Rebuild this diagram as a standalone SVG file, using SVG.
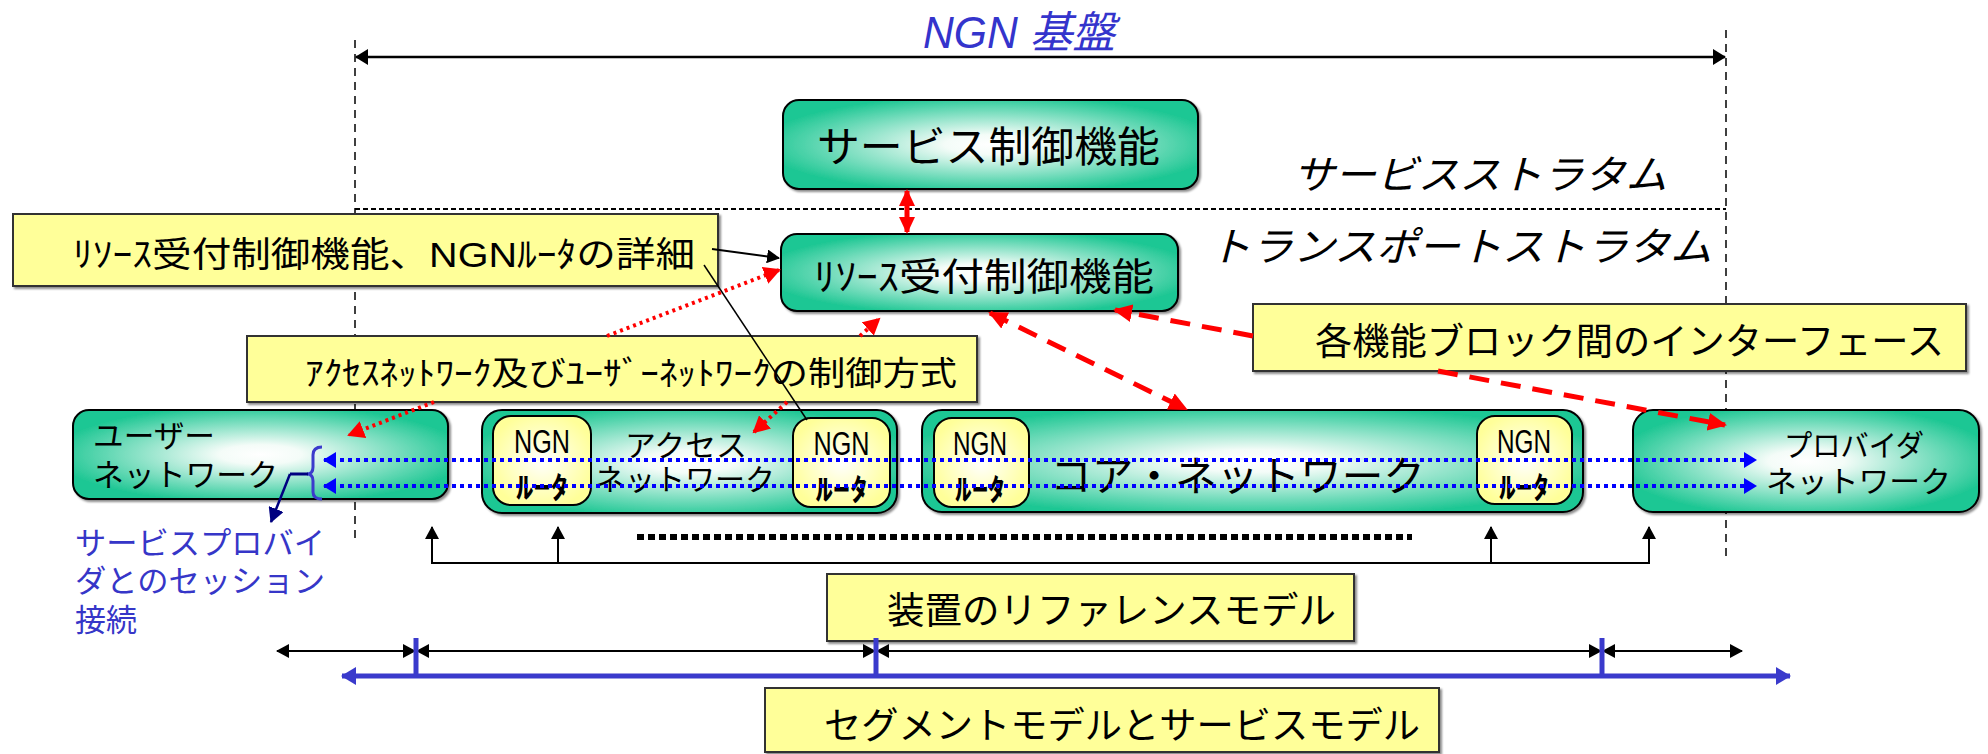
<svg xmlns="http://www.w3.org/2000/svg" width="1988" height="754" viewBox="0 0 1988 754">
<style>
.jp{font-family:'Liberation Sans','Noto Sans CJK JP',sans-serif;fill:#000}
.lat{font-family:'Liberation Sans',sans-serif;fill:#000}
.green{fill:url(#gG);stroke:#000;stroke-width:2;filter:url(#sh)}
.rtr{fill:url(#gY);stroke:#000;stroke-width:2}
.call{fill:#ffff99;stroke:#333;stroke-width:2;filter:url(#sh)}
.blue{fill:#3636c8}
</style>
<defs>
<radialGradient id="gG" cx="50%" cy="50%" r="55%">
<stop offset="0" stop-color="#ffffff"/>
<stop offset="0.2" stop-color="#f4fcf8"/>
<stop offset="1" stop-color="#1fc794"/>
</radialGradient>
<radialGradient id="gY" cx="50%" cy="50%" r="55%">
<stop offset="0" stop-color="#ffffff"/>
<stop offset="1" stop-color="#ffff99"/>
</radialGradient>
<filter id="sh" x="-5%" y="-5%" width="115%" height="125%">
<feDropShadow dx="2" dy="2" stdDeviation="1" flood-color="#000" flood-opacity="0.45"/>
</filter>
<marker id="aBk" markerUnits="userSpaceOnUse" markerWidth="14" markerHeight="16" refX="12" refY="8" orient="auto-start-reverse"><path d="M0,0 L13,8 L0,16 z" fill="#000"/></marker>
<marker id="aBs" markerUnits="userSpaceOnUse" markerWidth="14" markerHeight="14" refX="12" refY="7" orient="auto-start-reverse"><path d="M0,0 L13,7 L0,14 z" fill="#000"/></marker>
<marker id="aRd" markerUnits="userSpaceOnUse" markerWidth="20" markerHeight="18" refX="17" refY="9" orient="auto-start-reverse"><path d="M0,0 L19,9 L0,18 z" fill="#ff0000"/></marker>
<marker id="aRs" markerUnits="userSpaceOnUse" markerWidth="18" markerHeight="18" refX="15" refY="9" orient="auto-start-reverse"><path d="M0,1 L17,9 L0,17 z" fill="#ff0000"/></marker>
<marker id="aRo" markerUnits="userSpaceOnUse" markerWidth="18" markerHeight="18" refX="15" refY="9" orient="auto-start-reverse"><path d="M0,0 L17,9 L0,18 z" fill="#ff0000"/></marker>
<marker id="aBl" markerUnits="userSpaceOnUse" markerWidth="14" markerHeight="16" refX="12" refY="8" orient="auto-start-reverse"><path d="M0,0 L13,8 L0,16 z" fill="#0000ff"/></marker>
<marker id="aSg" markerUnits="userSpaceOnUse" markerWidth="16" markerHeight="20" refX="14" refY="10" orient="auto-start-reverse"><path d="M0,1 L15,10 L0,19 z" fill="#3a3acc"/></marker>
<marker id="aNv" markerUnits="userSpaceOnUse" markerWidth="16" markerHeight="16" refX="14" refY="8" orient="auto-start-reverse"><path d="M0,0 L15,8 L0,16 z" fill="#000080"/></marker>
</defs>

<rect width="1988" height="754" fill="#fff"/>

<g id="frame">
<line x1="355" y1="40" x2="355" y2="540" stroke="#000" stroke-width="1.5" stroke-dasharray="8 6"/>
<line x1="1726" y1="30" x2="1726" y2="556" stroke="#000" stroke-width="1.5" stroke-dasharray="8 6"/>
<line x1="355" y1="209" x2="1726" y2="209" stroke="#000" stroke-width="2" stroke-dasharray="5 3"/>
<text class="jp" x="923" y="48" font-size="44" font-style="italic" textLength="192" lengthAdjust="spacingAndGlyphs" style="fill:#3434cc">NGN 基盤</text>
<text class="jp" x="1293" y="189" font-size="40" font-style="italic" textLength="374" lengthAdjust="spacingAndGlyphs">サービスストラタム</text>
<text class="jp" x="1209" y="261" font-size="40" font-style="italic" textLength="503" lengthAdjust="spacingAndGlyphs">トランスポートストラタム</text>
</g>

<g id="service-control">
<rect class="green" x="783" y="100" width="415" height="89" rx="16"/>
<text class="jp" x="817" y="162" font-size="42" textLength="343" lengthAdjust="spacingAndGlyphs">サービス制御機能</text>
</g>

<g id="resource-control">
<rect class="green" x="781" y="234" width="397" height="77" rx="16"/>
<text class="jp" x="814" y="290" font-size="38" textLength="340" lengthAdjust="spacingAndGlyphs">ﾘｿｰｽ受付制御機能</text>
</g>

<g id="user-network">
<rect class="green" x="73" y="410" width="375" height="89" rx="16"/>
<text class="jp" x="93" y="447" font-size="31" textLength="122" lengthAdjust="spacingAndGlyphs">ユーザー</text>
<text class="jp" x="93" y="486" font-size="31" textLength="185" lengthAdjust="spacingAndGlyphs">ネットワーク</text>
</g>

<g id="access-network">
<rect class="green" x="482" y="410" width="415" height="103" rx="20"/>
<text class="jp" x="625" y="456" font-size="30" textLength="122" lengthAdjust="spacingAndGlyphs">アクセス</text>
<text class="jp" x="595" y="490" font-size="30" textLength="180" lengthAdjust="spacingAndGlyphs">ネットワーク</text>
</g>
<g id="router-1">
<rect class="rtr" x="493" y="416" width="98" height="89" rx="18"/>
<text class="lat" x="542" y="453" font-size="34" text-anchor="middle" textLength="56" lengthAdjust="spacingAndGlyphs">NGN</text>
<text class="jp" x="542" y="498" font-size="30" font-weight="bold" text-anchor="middle" textLength="52" lengthAdjust="spacingAndGlyphs">ﾙｰﾀ</text>
</g>
<g id="router-2">
<rect class="rtr" x="793" y="418" width="97" height="89" rx="18"/>
<text class="lat" x="841.5" y="455" font-size="34" text-anchor="middle" textLength="56" lengthAdjust="spacingAndGlyphs">NGN</text>
<text class="jp" x="841.5" y="500" font-size="30" font-weight="bold" text-anchor="middle" textLength="52" lengthAdjust="spacingAndGlyphs">ﾙｰﾀ</text>
</g>

<g id="core-network">
<rect class="green" x="922" y="410" width="661" height="102" rx="20"/>
<text class="jp" x="1050" y="491" font-size="41" textLength="375" lengthAdjust="spacingAndGlyphs">コア・ネットワーク</text>
</g>
<g id="router-3">
<rect class="rtr" x="934" y="418" width="95" height="89" rx="18"/>
<text class="lat" x="980" y="455" font-size="34" text-anchor="middle" textLength="54" lengthAdjust="spacingAndGlyphs">NGN</text>
<text class="jp" x="980" y="500" font-size="30" font-weight="bold" text-anchor="middle" textLength="50" lengthAdjust="spacingAndGlyphs">ﾙｰﾀ</text>
</g>
<g id="router-4">
<rect class="rtr" x="1477" y="416" width="95" height="88" rx="18"/>
<text class="lat" x="1524" y="453" font-size="34" text-anchor="middle" textLength="54" lengthAdjust="spacingAndGlyphs">NGN</text>
<text class="jp" x="1524" y="498" font-size="30" font-weight="bold" text-anchor="middle" textLength="50" lengthAdjust="spacingAndGlyphs">ﾙｰﾀ</text>
</g>

<g id="provider-network">
<rect class="green" x="1633" y="410" width="346" height="102" rx="20"/>
<text class="jp" x="1784" y="456" font-size="30" textLength="140" lengthAdjust="spacingAndGlyphs">プロバイダ</text>
<text class="jp" x="1766" y="492" font-size="30" textLength="185" lengthAdjust="spacingAndGlyphs">ネットワーク</text>
</g>

<g id="callout-detail">
<rect class="call" x="13" y="214" width="705" height="72"/>
<text class="jp" x="73" y="267" font-size="35" textLength="622" lengthAdjust="spacingAndGlyphs">ﾘｿｰｽ受付制御機能、NGNﾙｰﾀの詳細</text>
</g>
<g id="callout-access">
<rect class="call" x="247" y="336" width="730" height="66"/>
<text class="jp" x="305" y="385" font-size="33" textLength="652" lengthAdjust="spacingAndGlyphs">ｱｸｾｽﾈｯﾄﾜｰｸ及びﾕｰｻﾞｰﾈｯﾄﾜｰｸの制御方式</text>
</g>
<g id="callout-interface">
<rect class="call" x="1253" y="304" width="713" height="67"/>
<text class="jp" x="1315" y="355" font-size="37" textLength="629" lengthAdjust="spacingAndGlyphs">各機能ブロック間のインターフェース</text>
</g>
<g id="callout-reference">
<rect class="call" x="827" y="574" width="527" height="67"/>
<text class="jp" x="887" y="624" font-size="37" textLength="449" lengthAdjust="spacingAndGlyphs">装置のリファレンスモデル</text>
</g>
<g id="callout-segment">
<rect class="call" x="765" y="688" width="674" height="64"/>
<text class="jp" x="824" y="739" font-size="37" textLength="596" lengthAdjust="spacingAndGlyphs">セグメントモデルとサービスモデル</text>
</g>

<g id="session-label">
<text class="jp blue" x="75" y="554" font-size="31" textLength="250" lengthAdjust="spacingAndGlyphs">サービスプロバイ</text>
<text class="jp blue" x="75" y="592" font-size="31" textLength="250" lengthAdjust="spacingAndGlyphs">ダとのセッション</text>
<text class="jp blue" x="75" y="631" font-size="31" textLength="62" lengthAdjust="spacingAndGlyphs">接続</text>
</g>

<g id="connectors" fill="none">
<!-- NGN span -->
<line x1="356" y1="57" x2="1725" y2="57" stroke="#000" stroke-width="2.5" marker-start="url(#aBk)" marker-end="url(#aBk)"/>
<!-- service <-> resource -->
<line x1="907" y1="191" x2="907" y2="232" stroke="#ff0000" stroke-width="5" marker-start="url(#aRs)" marker-end="url(#aRs)"/>
<!-- detail callout pointer -->
<line x1="712" y1="249" x2="779" y2="258" stroke="#000" stroke-width="2" marker-end="url(#aBs)"/>
<line x1="704" y1="265" x2="807" y2="420" stroke="#000" stroke-width="1.5"/>
<!-- red dotted: access/user control -->
<path d="M434,402 L349,435" stroke="#ff0000" stroke-width="4" stroke-dasharray="3 4" marker-end="url(#aRo)"/>
<path d="M607,336 L779,270" stroke="#ff0000" stroke-width="4" stroke-dasharray="3 4" marker-end="url(#aRo)"/>
<path d="M860,336 L879,319" stroke="#ff0000" stroke-width="4" stroke-dasharray="3 4" marker-end="url(#aRo)"/>
<path d="M787,402 L754,432" stroke="#ff0000" stroke-width="4" stroke-dasharray="3 4" marker-end="url(#aRo)"/>
<!-- red dashed: interfaces -->
<path d="M990,313 L1186,409" stroke="#ff0000" stroke-width="5" stroke-dasharray="20 12" marker-start="url(#aRd)" marker-end="url(#aRd)"/>
<path d="M1253,336 L1115,310" stroke="#ff0000" stroke-width="5" stroke-dasharray="20 12" marker-end="url(#aRd)"/>
<path d="M1438,371 L1725,425" stroke="#ff0000" stroke-width="5" stroke-dasharray="20 12" marker-end="url(#aRd)"/>
<!-- blue session lines -->
<line x1="324" y1="460" x2="1756" y2="460" stroke="#0000ff" stroke-width="4" stroke-dasharray="4 4" marker-start="url(#aBl)" marker-end="url(#aBl)"/>
<line x1="324" y1="486" x2="1756" y2="486" stroke="#0000ff" stroke-width="4" stroke-dasharray="4 4" marker-start="url(#aBl)" marker-end="url(#aBl)"/>
<!-- brace and session label pointer -->
<path d="M322,447 Q313,447 313,455 L313,467 Q313,474 307,474 Q313,474 313,481 L313,492 Q313,499 322,499" stroke="#3b3bcc" stroke-width="3"/>
<line x1="290" y1="474" x2="308" y2="474" stroke="#000080" stroke-width="3"/>
<line x1="290" y1="474" x2="271" y2="522" stroke="#000080" stroke-width="2.5" marker-end="url(#aNv)"/>
<!-- ellipsis dots -->
<line x1="637" y1="537" x2="1412" y2="537" stroke="#000" stroke-width="6" stroke-dasharray="7 4"/>
<!-- reference model bracket -->
<path d="M432,527 L432,563 L1649,563 L1649,527" stroke="#000" stroke-width="2" marker-start="url(#aBs)" marker-end="url(#aBs)"/>
<line x1="558" y1="563" x2="558" y2="527" stroke="#000" stroke-width="2" marker-end="url(#aBs)"/>
<line x1="1491" y1="563" x2="1491" y2="527" stroke="#000" stroke-width="2" marker-end="url(#aBs)"/>
<!-- segment arrows -->
<line x1="277" y1="651" x2="415" y2="651" stroke="#000" stroke-width="2" marker-start="url(#aBs)" marker-end="url(#aBs)"/>
<line x1="417" y1="651" x2="875" y2="651" stroke="#000" stroke-width="2" marker-start="url(#aBs)" marker-end="url(#aBs)"/>
<line x1="877" y1="651" x2="1601" y2="651" stroke="#000" stroke-width="2" marker-start="url(#aBs)" marker-end="url(#aBs)"/>
<line x1="1603" y1="651" x2="1742" y2="651" stroke="#000" stroke-width="2" marker-start="url(#aBs)" marker-end="url(#aBs)"/>
<line x1="342" y1="676" x2="1790" y2="676" stroke="#3a3acc" stroke-width="5" marker-start="url(#aSg)" marker-end="url(#aSg)"/>
<line x1="416" y1="638" x2="416" y2="676" stroke="#3a3acc" stroke-width="5"/>
<line x1="876" y1="638" x2="876" y2="676" stroke="#3a3acc" stroke-width="5"/>
<line x1="1602" y1="638" x2="1602" y2="676" stroke="#3a3acc" stroke-width="5"/>
</g>
</svg>
